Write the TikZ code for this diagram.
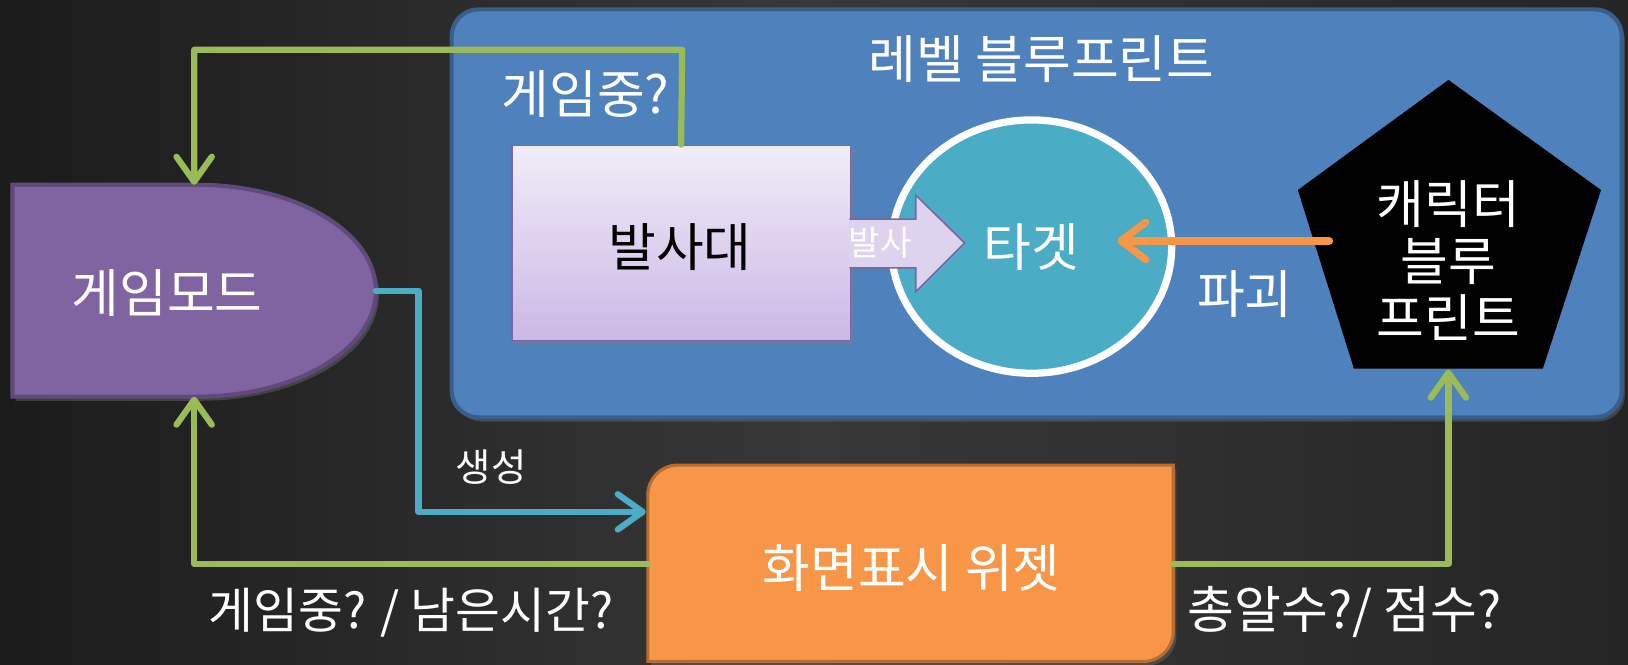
\documentclass[tikz,border=0pt]{standalone}
\usepackage{fontspec}
\setmainfont{Noto Sans CJK KR}
\usetikzlibrary{arrows.meta,shapes.geometric,shadows}
\definecolor{bgL}{HTML}{1B1B1B}
\definecolor{bgM}{HTML}{383838}
\definecolor{bgR}{HTML}{252525}
\definecolor{panelblue}{HTML}{4F81BD}
\definecolor{panelborder}{HTML}{3A5E8C}
\definecolor{gmpurple}{HTML}{8064A2}
\definecolor{gmborder}{HTML}{5F4A7B}
\definecolor{lavtop}{HTML}{F1EDF8}
\definecolor{lavbot}{HTML}{CBB8E6}
\definecolor{arrowlav}{HTML}{DDD3EF}
\definecolor{targetfill}{HTML}{4BACC6}
\definecolor{wgorange}{HTML}{F79646}
\definecolor{wgborder}{HTML}{B66D31}
\definecolor{lngreen}{HTML}{9BBB59}
\definecolor{lnteal}{HTML}{4BACC6}
\definecolor{lnorange}{HTML}{F79646}
\tikzset{
  bigtxt/.style={text=white, font=\fontsize{50}{55}\selectfont, inner sep=0pt},
  smalltxt/.style={text=white, font=\fontsize{37}{42}\selectfont, inner sep=0pt},
  conn/.style={line width=6pt, line cap=round, line join=round,
    -{Straight Barb[length=24pt,width=34pt,line width=6pt,round]}},
  thickconn/.style={line width=8pt, line cap=round, line join=round,
    -{Straight Barb[length=24pt,width=36pt,line width=7pt,round]}},
  softshadow/.style={drop shadow={opacity=0.35, shadow xshift=3pt, shadow yshift=-4pt}},
}
\begin{document}
\begin{tikzpicture}[x=1pt,y=-1pt]
\useasboundingbox (0,0) rectangle (1568,640);
% background
\shade[left color=bgL, right color=bgR, middle color=bgM] (0,0) rectangle (1568,640);

% level blueprint panel
\draw[fill=panelblue, draw=panelborder, line width=4pt, rounded corners=26pt, softshadow]
  (435,9) rectangle (1562,402);
\node[bigtxt] (title) at (1003,57) {레벨 블루프린트};

% game mode (delay shape)
\draw[fill=gmpurple, draw=gmborder, line width=4pt, softshadow]
  (12,178) -- (190,178) arc[start angle=-90, end angle=90, x radius=172, y radius=102]
  -- (12,382) -- cycle;
\node[bigtxt] (gm) at (161,282) {게임모드};
\coordinate (gmTop) at (187,178);
\coordinate (gmBot) at (187,382);
\coordinate (gmRight) at (362,280);

% target ellipse
\node[ellipse, fill=targetfill, draw=white, line width=7pt,
      minimum width=270pt, minimum height=244pt, inner sep=0pt] (target) at (993.5,237.5) {};
\node[bigtxt] (targettxt) at (993,238) {타겟};
\coordinate (targetHit) at (1076,232);

% launcher box
\node[draw=gmpurple, line width=1.5pt, top color=lavtop, bottom color=lavbot,
      minimum width=326pt, minimum height=188pt, inner sep=0pt, softshadow] (launch) at (656,234) {};
\node[text=black, font=\fontsize{50}{55}\selectfont, inner sep=0pt] (launchtxt) at (655,238) {발사대};

% fire block arrow
\draw[fill=arrowlav, draw=gmpurple, line width=1.5pt]
  (818,211) -- (882,211) -- (882,188) -- (929,234) -- (882,281) -- (882,258) -- (818,258);
\node[smalltxt, font=\fontsize{33}{38}\selectfont] (firetxt) at (848,234) {발사};

% character blueprint pentagon
\fill[black] (1395,77) -- (1542,183) -- (1486,355) -- (1304,355) -- (1250,183) -- cycle;
\node[bigtxt, align=center] (chartxt) at (1395,251) {캐릭터\\블루\\프린트};
\coordinate (charBot) at (1395,356);
\coordinate (charLeft) at (1280,232);

% widget box
\draw[fill=wgorange, draw=wgborder, line width=3pt, softshadow]
  (624,637) -- (624,476) .. controls (624,461) and (637,448) .. (652,448)
  -- (1130,448) -- (1130,609) .. controls (1130,624) and (1117,637) .. (1102,637) -- cycle;
\node[bigtxt] (widget) at (878,547) {화면표시 위젯};
\coordinate (wTealIn) at (622,493);
\coordinate (wLeft) at (624,543);
\coordinate (wRight) at (1130,543);

% connectors
\draw[conn, lngreen] (launch.north) -- (657,48) -| (gmTop);
\draw[conn, lnteal] (gmRight) -- (403,280) |- (wTealIn);
\draw[conn, lngreen] (wLeft) -| (gmBot);
\draw[conn, lngreen] (wRight) -| (charBot);
\draw[thickconn, lnorange] (charLeft) -- (targetHit);

% labels
\node[bigtxt] (lbl1) at (564,91) {게임중?};
\node[smalltxt] (lbl2) at (473,450) {생성};
\node[bigtxt] (lbl3) at (1199,283) {파괴};
\node[bigtxt, font=\fontsize{47}{52}\selectfont] (lbl4) at (396,590) {게임중? / 남은시간?};
\node[bigtxt, font=\fontsize{49}{54}\selectfont] (lbl5) at (1295,589) {총알수?/ 점수?};
\end{tikzpicture}
\end{document}
